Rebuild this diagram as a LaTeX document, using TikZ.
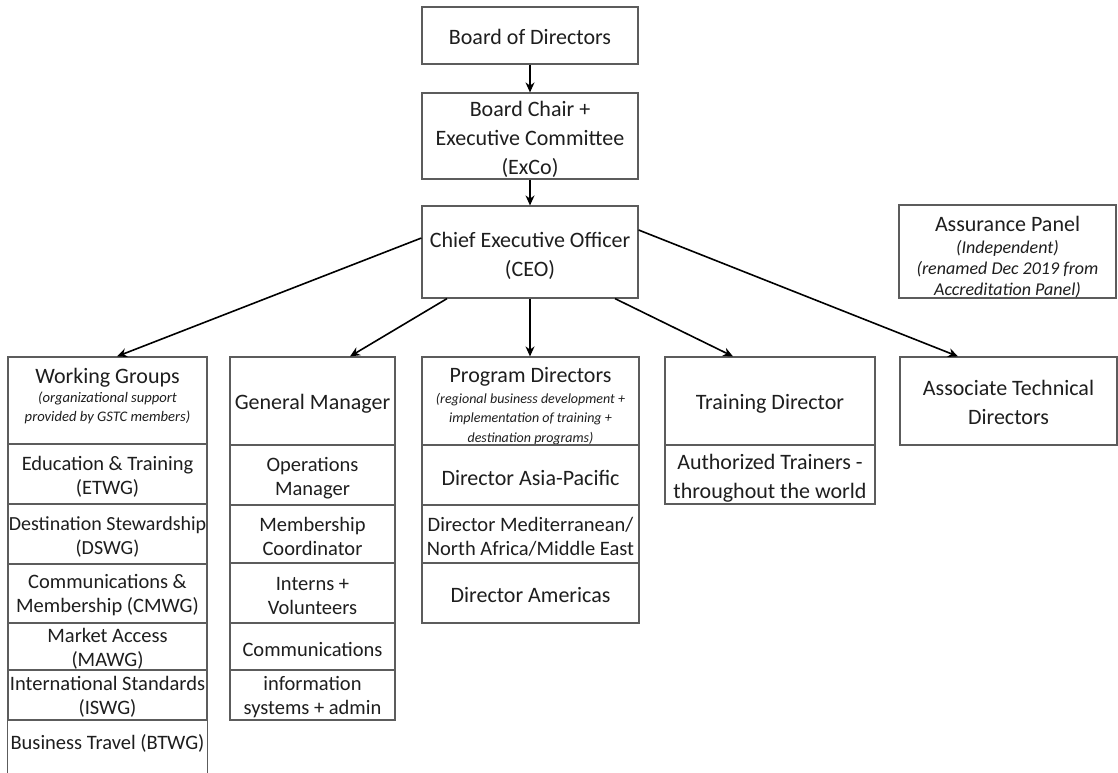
\documentclass[tikz,border=0pt]{standalone}
\usepackage{fontspec}
\setmainfont{Carlito}
\usetikzlibrary{arrows.meta}
\definecolor{boxgray}{HTML}{5C5C5C}
\definecolor{txt}{HTML}{1E1E1E}
\newcommand\fBig{\normalfont\fontsize{22}{29}\selectfont}
\newcommand\fRow{\normalfont\fontsize{20.5}{24}\selectfont}
\newcommand\fRowS{\normalfont\fontsize{20}{24}\selectfont}
\newcommand\fIt{\normalfont\fontsize{14}{19.5}\selectfont\itshape}
\newcommand\fItW{\normalfont\fontsize{14.6}{19.5}\selectfont\itshape}
\newcommand\fItL{\normalfont\fontsize{18}{21}\selectfont\itshape}
\begin{document}
\begin{tikzpicture}[x=1pt,y=-1pt,
  cell/.style={draw=boxgray,line width=1.2pt,inner sep=0pt},
  lbl/.style={align=center,text=txt,inner sep=0pt},
  TB/.style 2 args={label={[lbl,font=\fBig,yshift=#1]center:{#2}}},
  TR/.style 2 args={label={[lbl,font=\fRow,yshift=#1]center:{#2}}},
  TI/.style 2 args={label={[lbl,font=\fIt,yshift=#1]center:{#2}}},
  TL/.style 2 args={label={[lbl,font=\fItL,yshift=#1]center:{#2}}},
  arr/.style={-{Stealth[length=10pt,width=9pt]},line width=1.6pt,black}
]
\path[use as bounding box, clip] (0,0) rectangle (1118,772);
\fill[white] (0,0) rectangle (1118,772);

% top chain
\node[cell,minimum width=216pt,minimum height=57pt,TB={-1pt}{Board of Directors}] (bod) at (530,35.5) {};
\node[cell,minimum width=216pt,minimum height=86pt,TB={-3pt}{Board Chair +\\Executive Committee\\(ExCo)}] (chair) at (530,136) {};
\node[cell,minimum width=216pt,minimum height=92pt,TB={-3.5pt}{Chief Executive Officer\\(CEO)}] (ceo) at (530,252) {};
\node[cell,minimum width=217pt,minimum height=93pt,
  TL={-5.5pt}{\fBig Assurance Panel\\[1pt]\fItL (Independent)\\\fItL (renamed Dec 2019 from\\\fItL Accreditation Panel)}] (assur) at (1007.5,251.5) {};

% Working groups column
\node[cell,minimum width=199pt,minimum height=87pt,
  TI={4pt}{\fBig Working Groups\\[-1pt]\fItW (organizational support\\\fItW provided by GSTC members)}] (wg0) at (107.5,400.5) {};
\node[cell,minimum width=199pt,minimum height=60pt,TR={-3pt}{Education \& Training\\(ETWG)}] (wg1) at (107.5,474) {};
\node[cell,minimum width=199pt,minimum height=60pt,TR={-3pt}{\fRowS Destination Stewardship\\\fRowS (DSWG)}] (wg2) at (107.5,534) {};
\node[cell,minimum width=199pt,minimum height=59pt,TR={-2pt}{Communications \&\\Membership (CMWG)}] (wg3) at (107.5,593.5) {};
\node[cell,minimum width=199pt,minimum height=47pt,TR={-2pt}{Market Access\\(MAWG)}] (wg4) at (107.5,646.5) {};
\node[cell,minimum width=199pt,minimum height=50pt,TR={-2pt}{International Standards\\(ISWG)}] (wg5) at (107.5,695) {};
\node[lbl,font=\fRow] (wg6) at (107.5,743) {Business Travel (BTWG)};
\draw[boxgray,line width=1.2pt] (wg5.south west) -- ++(0,70) (wg5.south east) -- ++(0,70);

% General manager column
\node[cell,minimum width=165pt,minimum height=88pt,TB={-3pt}{General Manager}] (gm0) at (312.5,401) {};
\node[cell,minimum width=165pt,minimum height=60pt,TR={-3pt}{Operations\\Manager}] (gm1) at (312.5,475) {};
\node[cell,minimum width=165pt,minimum height=58pt,TR={-2pt}{Membership\\Coordinator}] (gm2) at (312.5,534) {};
\node[cell,minimum width=165pt,minimum height=60pt,TR={-3pt}{Interns +\\Volunteers}] (gm3) at (312.5,593) {};
\node[cell,minimum width=165pt,minimum height=47pt,TR={-3pt}{Communications}] (gm4) at (312.5,646.5) {};
\node[cell,minimum width=165pt,minimum height=50pt,TR={-2.5pt}{information\\systems + admin}] (gm5) at (312.5,695) {};

% Program directors column
\node[cell,minimum width=217pt,minimum height=88pt,
  TI={-5pt}{\fBig Program Directors\\[1pt]\fIt (regional business development +\\\fIt implementation of training +\\\fIt destination programs)}] (pd0) at (530.5,401) {};
\node[cell,minimum width=217pt,minimum height=60pt,TB={-3pt}{Director Asia-Pacific}] (pd1) at (530.5,475) {};
\node[cell,minimum width=217pt,minimum height=58pt,TR={-2.5pt}{Director Mediterranean/\\North Africa/Middle East}] (pd2) at (530.5,534) {};
\node[cell,minimum width=217pt,minimum height=60pt,TB={-2pt}{Director Americas}] (pd3) at (530.5,593) {};

% Training director column
\node[cell,minimum width=210pt,minimum height=88pt,TB={-3pt}{Training Director}] (td0) at (770,401) {};
\node[cell,minimum width=210pt,minimum height=59pt,TB={-4pt}{Authorized Trainers -\\throughout the world}] (td1) at (770,474.5) {};

% Associate technical directors
\node[cell,minimum width=217pt,minimum height=88pt,TB={-1pt}{Associate Technical\\Directors}] (atd) at (1008.5,401) {};

% connectors
\draw[arr] (bod.south) -- (chair.north);
\draw[arr] (chair.south) -- (ceo.north);
\draw[arr] ([yshift=14pt]ceo.west) -- ([xshift=9.5pt]wg0.north);
\draw[arr] ([xshift=-83pt]ceo.south) -- ([xshift=37.5pt]gm0.north);
\draw[arr] (ceo.south) -- (ceo.south |- pd0.north);
\draw[arr] ([xshift=85pt]ceo.south) -- ([xshift=-37pt]td0.north);
\draw[arr] ([yshift=22pt]ceo.east) -- ([xshift=-50.5pt]atd.north);
\end{tikzpicture}
\end{document}
